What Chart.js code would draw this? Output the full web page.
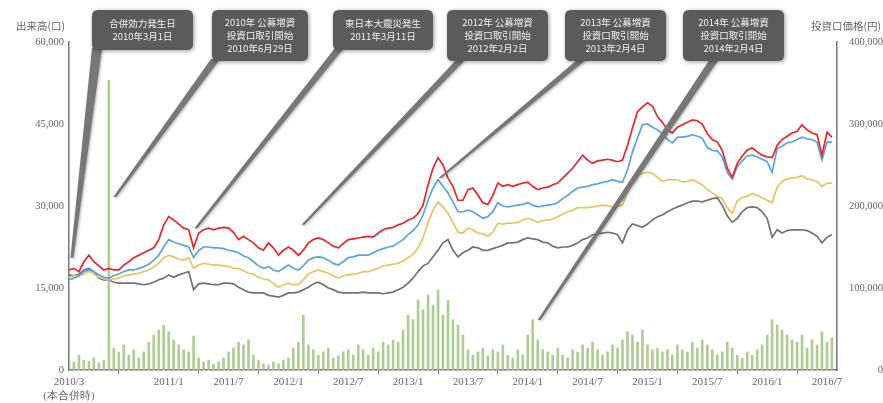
<!DOCTYPE html>
<html><head><meta charset="utf-8">
<script src="https://cdn.jsdelivr.net/npm/chart.js@4"></script>
<style>html,body{margin:0;padding:0;background:#fff}#wrap{width:883px;height:403px;position:relative}</style>
</head><body><div id="wrap"><canvas id="c" width="883" height="403"></canvas></div>
<script>
// ---------- DATA ----------
// half-monthly sample dates 2010/3/1 .. 2016/7/16
const dates = [];
for (let i = 0; i < 154; i++) {
  const mo = 3 + Math.floor(i / 2);
  const y = 2010 + Math.floor((mo - 1) / 12);
  const m = ((mo - 1) % 12) + 1;
  dates.push(y + '/' + m + '/' + (i % 2 ? 16 : 1));
}
const tickLabels = ['2010/3','2011/1','2011/7','2012/1','2012/7','2013/1','2013/7','2014/1','2014/7','2015/1','2015/7','2016/1','2016/7'];
const firstTickNote = '(本合併時)';

// 出来高(口)
const volume = [2200,1500,2700,1800,1600,2200,1300,1800,53000,4000,
3300,4600,2700,3700,2200,3300,5100,6400,7300,8200,
7000,5500,4600,3700,3300,6200,2200,1500,1800,1100,
1500,2200,3300,4000,5100,4600,5500,2700,1800,1100,
900,1500,1100,1800,2200,4000,5100,10000,4600,3700,
2700,3300,4000,2200,2600,3300,3700,2700,4600,3700,
2700,4000,3300,5100,4600,5500,5100,7300,10000,9200,
12800,11000,13700,11900,14600,10000,12800,9200,8200,6400,
3700,2700,3300,4000,2600,3700,3300,4600,2700,2200,
3700,2700,6400,9200,5500,3700,3300,2700,4000,2700,
2200,3700,3300,4600,4000,5100,3700,2700,3300,4600,
4000,5500,7000,6400,5100,7300,4600,3700,4000,3300,
3700,2700,4600,3700,3300,5100,4000,5500,4600,3700,
2700,3300,5100,4000,2700,2200,3300,2700,3700,4600,
6400,9200,8200,7300,6400,5500,5100,6400,4000,5500,
4600,7000,5100,5900];

// 投資口価格(円) series
const seriesRed = [122,124,120,132,140,132,127,122,124,122,
122,128,132,137,140,143,146,149,159,177,
187,183,178,173,171,149,167,171,173,171,
173,174,173,168,159,163,159,155,149,146,
155,149,140,146,150,146,140,146,155,159,
161,159,155,151,149,154,159,160,161,162,
163,162,167,171,173,174,177,179,183,185,
191,201,226,246,259,250,234,224,207,207,
220,222,213,204,202,213,228,224,226,224,
226,228,229,224,220,222,223,226,228,234,
240,246,254,262,256,252,255,256,257,256,
254,256,274,295,315,321,326,322,309,302,
293,289,296,299,302,305,304,300,288,281,
278,268,246,235,252,261,268,271,266,262,
260,259,274,281,285,289,291,299,293,289,
287,262,290,284].map(v => v * 1000);
const seriesBlue = [110,112,115,120,122,120,116,113,112,115,
117,120,122,122,124,126,129,134,140,150,
159,156,154,152,150,137,146,150,150,149,
149,148,146,145,143,139,137,132,127,124,
126,122,120,124,128,124,122,127,134,137,
138,137,134,130,128,132,137,138,140,140,
140,143,146,148,150,151,155,159,165,170,
177,189,207,222,232,224,216,205,193,193,
195,193,189,185,187,193,204,200,199,200,
201,202,204,201,199,200,201,202,204,209,
213,218,222,223,224,226,227,229,230,232,
230,229,244,266,283,299,300,296,293,288,
281,277,284,284,285,287,285,283,271,268,
267,260,241,233,248,255,261,262,260,257,
254,241,270,273,277,278,281,284,282,281,
278,256,278,278].map(v => v * 1000);
const seriesYellow = [113,115,115,117,120,117,113,111,110,111,
112,115,116,117,118,120,122,126,130,137,
140,138,135,134,137,124,128,130,129,128,
128,127,126,124,124,121,118,117,113,111,
110,106,101,104,106,104,104,110,117,120,
122,120,118,115,112,115,116,117,118,120,
120,122,124,127,128,129,130,133,137,141,
149,161,180,195,205,199,191,180,168,167,
173,171,167,166,163,168,179,178,179,179,
180,183,185,183,180,182,183,184,187,190,
193,195,198,198,198,199,200,201,200,199,
200,201,217,228,237,240,241,240,235,230,
232,232,232,229,230,232,229,226,220,216,
212,209,198,191,206,210,212,215,213,210,
207,204,223,230,233,234,235,237,233,232,
230,224,228,228].map(v => v * 1000);
const seriesGray = [116,115,117,122,124,120,112,110,110,107,
106,106,106,106,105,104,105,107,110,112,
116,113,116,118,120,98,105,106,105,104,
104,106,106,105,101,98,95,94,94,94,
91,90,89,91,94,94,95,98,101,105,
107,104,100,98,95,94,94,94,94,95,
94,94,94,93,94,95,98,101,106,112,
120,127,130,138,146,155,159,146,138,143,
146,150,149,146,146,148,150,152,155,155,
156,159,161,160,159,156,155,151,149,150,
150,152,155,159,161,165,166,167,168,167,
165,155,171,178,176,174,178,183,187,189,
193,196,199,201,204,206,206,205,207,209,
210,201,188,180,185,193,198,199,198,193,
185,162,171,167,170,171,171,171,170,167,
163,155,162,165].map(v => v * 1000);

// callout events (text + where the pointer lands: date / price)
const eventTexts = [
  ['合併効力発生日','2010年3月1日'],
  ['2010年 公募増資','投資口取引開始','2010年6月29日'],
  ['東日本大震災発生','2011年3月11日'],
  ['2012年 公募増資','投資口取引開始','2012年2月2日'],
  ['2013年 公募増資','投資口取引開始','2013年2月4日'],
  ['2014年 公募増資','投資口取引開始','2014年2月4日']
];
const eventTipDates = ['2010/3/10','2010/7/19','2011/3/23','2012/2/15','2013/4/7','2014/2/5'];
const eventTipPrices = [137000, 211000, 173000, 177000, 234000, 61000];

// ---------- helpers ----------
function monthIndex(s) {
  const p = s.split('/').map(Number);
  return (p[0] - 2010) * 12 + (p[1] - 3) + ((p[2] || 1) - 1) / 30.5;
}
const pts = arr => arr.map((v, i) => ({ x: monthIndex(dates[i]), y: v }));
const tickValues = tickLabels.map(t => monthIndex(t));

// callout layout (pixels)
const boxLayout = [
  { x: 92,  y: 10, w: 101, h: 40, bl: 92,  br: 102, by: 48 },
  { x: 212, y: 10, w: 96,  h: 51, bl: 211, br: 220, by: 59 },
  { x: 333, y: 10, w: 100, h: 40, bl: 335, br: 344, by: 48 },
  { x: 447, y: 10, w: 101, h: 51, bl: 457, br: 466, by: 59 },
  { x: 565, y: 10, w: 101, h: 51, bl: 578, br: 587, by: 59 },
  { x: 683, y: 10, w: 101, h: 51, bl: 710, br: 719, by: 59 }
];

function roundRect(ctx, x, y, w, h, r) {
  ctx.beginPath();
  ctx.moveTo(x + r, y);
  ctx.lineTo(x + w - r, y); ctx.quadraticCurveTo(x + w, y, x + w, y + r);
  ctx.lineTo(x + w, y + h - r); ctx.quadraticCurveTo(x + w, y + h, x + w - r, y + h);
  ctx.lineTo(x + r, y + h); ctx.quadraticCurveTo(x, y + h, x, y + h - r);
  ctx.lineTo(x, y + r); ctx.quadraticCurveTo(x, y, x + r, y);
  ctx.closePath();
}

const calloutPlugin = {
  id: 'callouts',
  afterDraw(chart) {
    const ctx = chart.ctx;
    const xs = chart.scales.x, yr = chart.scales.yR;
    ctx.save();
    // axis titles
    ctx.fillStyle = '#666';
    ctx.font = '10.5px "Noto Sans CJK JP", sans-serif';
    ctx.textBaseline = 'middle';
    ctx.textAlign = 'right';
    ctx.fillText('出来高(口)', 65, 26);
    ctx.fillText('投資口価格(円)', 881, 26);
    // pointers
    ctx.shadowColor = 'rgba(0,0,0,0.3)';
    ctx.shadowBlur = 3;
    ctx.shadowOffsetX = 1; ctx.shadowOffsetY = 1;
    boxLayout.forEach((b, i) => {
      const tx = xs.getPixelForValue(monthIndex(eventTipDates[i]));
      const ty = yr.getPixelForValue(eventTipPrices[i]);
      ctx.fillStyle = '#777777';
      ctx.beginPath();
      ctx.moveTo(b.bl, b.by);
      ctx.lineTo(b.br, b.by);
      ctx.lineTo(tx + 1.5, ty);
      ctx.lineTo(tx - 1.5, ty);
      ctx.closePath();
      ctx.fill();
    });
    // boxes
    boxLayout.forEach((b, i) => {
      ctx.shadowColor = 'rgba(0,0,0,0.4)';
      ctx.shadowBlur = 4;
      ctx.fillStyle = '#5b5b5b';
      roundRect(ctx, b.x, b.y, b.w, b.h, 6);
      ctx.fill();
      ctx.shadowColor = 'transparent';
      ctx.fillStyle = '#eeeeee';
      ctx.font = '9.5px "Noto Sans CJK JP", sans-serif';
      ctx.textAlign = 'center';
      ctx.textBaseline = 'middle';
      const lines = eventTexts[i];
      const lh = 13;
      const cy = b.y + b.h / 2;
      lines.forEach((t, k) => {
        ctx.fillText(t, b.x + b.w / 2, cy + (k - (lines.length - 1) / 2) * lh);
      });
    });
    ctx.restore();
  }
};

const serif = '"Liberation Serif", "DejaVu Serif", serif';
const lineDs = (label, data, color, order) => ({
  type: 'line', label, data: pts(data), yAxisID: 'yR',
  borderColor: color, borderWidth: 1.7, pointRadius: 0, tension: 0, order
});

new Chart(document.getElementById('c'), {
  type: 'line',
  data: {
    datasets: [
      lineDs('red', seriesRed, '#e8262b', 1),
      lineDs('blue', seriesBlue, '#5ba3dc', 2),
      lineDs('yellow', seriesYellow, '#e6c464', 3),
      lineDs('gray', seriesGray, '#727272', 4),
      { type: 'bar', label: '出来高', data: pts(volume), yAxisID: 'yL',
        backgroundColor: '#aecd93', barThickness: 2, order: 10 }
    ]
  },
  options: {
    responsive: false,
    animation: false,
    devicePixelRatio: 1,
    layout: { padding: { top: 42, left: 0, right: 0, bottom: 0 } },
    plugins: { legend: { display: false }, tooltip: { enabled: false } },
    scales: {
      x: {
        type: 'linear', min: 0, max: 77, offset: false,
        afterBuildTicks: s => { s.ticks = tickValues.map(v => ({ value: v })); },
        afterFit: s => { s.height = 33; },
        grid: { display: true, drawOnChartArea: false, drawTicks: true, tickLength: 4, color: '#777', lineWidth: 1 },
        border: { display: true, color: '#777', width: 1.5 },
        ticks: {
          autoSkip: false, maxRotation: 0, padding: 2, color: '#666',
          font: { family: serif, size: 11 },
          callback: (v) => {
            const idx = tickValues.findIndex(t => Math.abs(t - v) < 1e-6);
            if (idx < 0) return '';
            return idx === 0 ? [tickLabels[0], firstTickNote] : tickLabels[idx];
          }
        }
      },
      yL: {
        position: 'left', min: 0, max: 60000,
        afterFit: s => { s.width = 69; },
        grid: { display: true, drawOnChartArea: false, drawTicks: false },
        border: { display: true, color: '#777', width: 1.5 },
        ticks: { stepSize: 15000, padding: 5, color: '#666', font: { family: serif, size: 10.5 },
          callback: v => v.toLocaleString('en-US') }
      },
      yR: {
        position: 'right', min: 0, max: 400000,
        afterFit: s => { s.width = 46; },
        grid: { display: true, drawOnChartArea: false, drawTicks: false },
        border: { display: true, color: '#777', width: 1.5 },
        ticks: { stepSize: 100000, padding: 6, crossAlign: 'far', color: '#666', font: { family: serif, size: 10.5 },
          callback: v => v.toLocaleString('en-US') }
      }
    }
  },
  plugins: [calloutPlugin]
});
</script>
</body></html>
